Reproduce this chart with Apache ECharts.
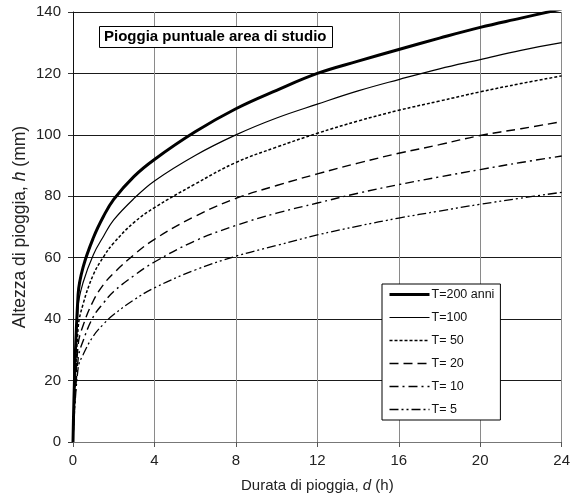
<!DOCTYPE html>
<html>
<head>
<meta charset="utf-8">
<script src="https://cdn.jsdelivr.net/npm/echarts@6/dist/echarts.min.js"></script>
<style>
html,body{margin:0;padding:0;background:#fff;}
#chart{width:573px;height:499px;}
</style>
</head>
<body>
<div id="chart"></div>
<script>
// Durations (h)
var durations = [0, 0.25, 0.5, 1, 1.5, 2, 3, 4, 6, 8, 10, 12, 14, 16, 18, 20, 22, 24];
// Rainfall depth h (mm) per return period
var h_T200 = [0, 48, 57, 66.5, 73.5, 79, 86.5, 92, 101, 108.5, 114.5, 120, 124, 127.8, 131.5, 135, 138, 141];
var h_T100 = [0, 44, 52, 61, 67, 72.3, 79.3, 85, 93.3, 100, 105.5, 110, 114.3, 118, 121.5, 124.5, 127.5, 130];
var h_T50  = [0, 37, 45, 54.5, 60.3, 64.8, 71.5, 76.3, 84, 91, 96, 100.5, 104.5, 108, 111, 114, 116.7, 119.2];
var h_T20  = [0, 31.5, 38, 46, 51.3, 55, 61, 66, 73.5, 79.3, 83.5, 87.3, 90.8, 94, 96.8, 99.8, 102, 104.3];
var h_T10  = [0, 27, 33, 40.8, 45.3, 49, 54.2, 58.6, 65.5, 70.5, 74.5, 77.8, 81, 83.8, 86.3, 88.7, 91, 93.1];
var h_T5   = [0, 24, 28.5, 34.5, 38.4, 41.5, 46.3, 50.2, 56, 60.5, 64, 67.4, 70.3, 72.9, 75.2, 77.4, 79.4, 81.3];
var seriesNames = ['T=200 anni', 'T=100', 'T= 50', 'T= 20', 'T= 10', 'T= 5'];
var xTicks = [0, 4, 8, 12, 16, 20, 24];
var yTicks = [0, 20, 40, 60, 80, 100, 120, 140];

function pairs(ys){ return durations.map(function(d,i){ return [d, ys[i]]; }); }

var styles = [
  {width: 3, type: 'solid'},
  {width: 1.2, type: 'solid'},
  {width: 1.5, type: [3, 2]},
  {width: 1.4, type: [9, 5]},
  {width: 1.4, type: [9, 4, 2, 4]},
  {width: 1.3, type: [9, 3, 2, 3, 2, 3]}
];
var allData = [h_T200, h_T100, h_T50, h_T20, h_T10, h_T5];

var font = 'Liberation Sans, Arial, sans-serif';
var chart = echarts.init(document.getElementById('chart'), null, {renderer: 'canvas'});
var option = {
  animation: false,
  backgroundColor: '#fff',
  textStyle: {fontFamily: font},
  title: {
    text: 'Pioggia puntuale area di studio',
    left: 99, top: 26,
    padding: [3, 6, 3, 5],
    borderColor: '#000', borderWidth: 1,
    backgroundColor: '#fff',
    textStyle: {fontFamily: font, fontSize: 15, fontWeight: 'bold', color: '#000', lineHeight: 16}
  },
  legend: {
    orient: 'vertical',
    left: 382, top: 284,
    padding: [4, 6, 4, 6],
    itemWidth: 40, itemHeight: 12, itemGap: 10,
    backgroundColor: '#fff', borderColor: '#000', borderWidth: 1, borderRadius: 0,
    itemStyle: {opacity: 0},
    textStyle: {fontFamily: font, fontSize: 12.5, lineHeight: 12, color: '#111', padding: [0, 0, 0, -3]},
    data: seriesNames.map(function(n, i){
      return {name: n, lineStyle: {width: styles[i].width, type: styles[i].type, color: '#000'}};
    }),
    z: 10
  },
  grid: {left: 73, right: 6, top: 12, bottom: 57, containLabel: false},
  xAxis: {
    type: 'value', min: xTicks[0], max: xTicks[xTicks.length-1], interval: 4,
    name: 'Durata di pioggia, {i|d} (h)',
    nameLocation: 'middle', nameGap: 36,
    nameTextStyle: {fontFamily: font, fontSize: 15, color: '#222', rich: {i: {fontStyle: 'italic', fontFamily: font, fontSize: 15, color: '#222'}}},
    axisLine: {show: true, lineStyle: {color: '#777', width: 1}},
    axisTick: {show: true, length: 5, lineStyle: {color: '#555'}},
    axisLabel: {fontFamily: font, fontSize: 15, color: '#222', margin: 11},
    splitLine: {show: true, lineStyle: {color: '#8a8a8a', width: 1}}
  },
  yAxis: {
    type: 'value', min: yTicks[0], max: yTicks[yTicks.length-1], interval: 20,
    name: 'Altezza di pioggia, {i|h} (mm)',
    nameLocation: 'middle', nameGap: 44, nameMoveOverlap: false,
    nameTextStyle: {fontFamily: font, fontSize: 17.5, color: '#222', rich: {i: {fontStyle: 'italic', fontFamily: font, fontSize: 17.5, color: '#222'}}},
    axisLine: {show: true, lineStyle: {color: '#111', width: 1}},
    axisTick: {show: true, length: 5, lineStyle: {color: '#333'}},
    axisLabel: {fontFamily: font, fontSize: 15, color: '#222', margin: 12},
    splitLine: {show: true, lineStyle: {color: '#1a1a1a', width: 1}}
  },
  series: seriesNames.map(function(n, i){
    return {
      name: n, type: 'line', data: pairs(allData[i]),
      symbol: 'none', showSymbol: false,
      smooth: 0.4,
      clip: true,
      lineStyle: {color: '#000', width: styles[i].width, type: styles[i].type},
      itemStyle: {color: '#000'},
      z: 5
    };
  })
};
chart.setOption(option);
</script>
</body>
</html>
